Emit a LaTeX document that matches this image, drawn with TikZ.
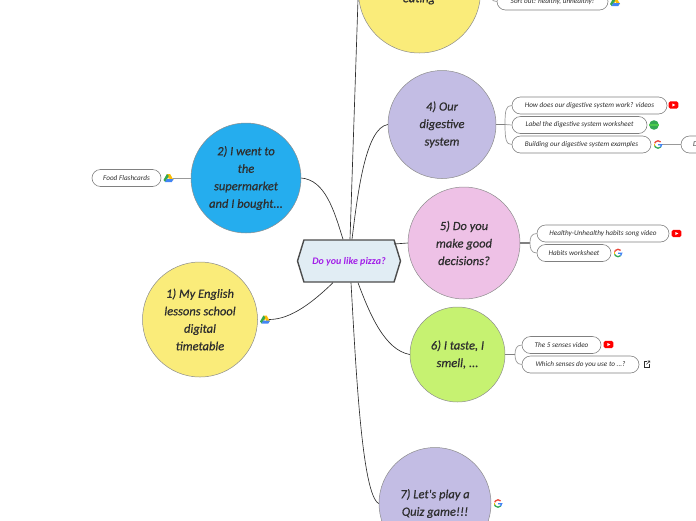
\documentclass[tikz,border=0pt]{standalone}
\usepackage{fontspec}
\setmainfont{Carlito}
\usetikzlibrary{shapes.symbols,shapes.misc}
\definecolor{ink}{HTML}{2E2E2E}
\definecolor{cyellow}{HTML}{FAEC7A}
\definecolor{clilac}{HTML}{C3BDE4}
\definecolor{cblue}{HTML}{25ADEE}
\definecolor{cpink}{HTML}{EEC1E6}
\definecolor{cgreen}{HTML}{C6F271}
\definecolor{chub}{HTML}{E1EDF4}
\definecolor{hubtext}{HTML}{A21FE8}
\definecolor{gblue}{HTML}{4285F4}
\definecolor{ggreen}{HTML}{34A853}
\definecolor{gyellow}{HTML}{FBBC05}
\definecolor{gred}{HTML}{EA4335}
\newfontfamily\topicfont[FakeBold=0.6]{Carlito}
\tikzset{
  x=1pt,y=-1pt,
  topic/.style={circle,draw=gray!90,line width=.5pt,inner sep=0pt,align=center,text=ink,
    font=\topicfont\fontsize{12.5}{17.5}\selectfont\itshape},
  topictext/.style={inner sep=0pt,text=ink,font=\topicfont\fontsize{12.5}{17.5}\selectfont\itshape},
  pill/.style={rounded rectangle,draw=gray,line width=.6pt,fill=white,inner sep=0pt,text=ink,
    minimum height=17pt,font=\fontsize{7.2}{9}\selectfont\itshape},
  link/.style={draw=ink,line width=.65pt},
  twig/.style={draw=gray!80,line width=.7pt},
  stem/.style={draw=gray,line width=1.1pt},
  iconbox/.style={inner sep=0pt,minimum size=8pt},
  pics/drive/.style={code={
    \fill[gyellow] (-1.6,-4) -- (1.6,-4) -- (.6,-1) -- (-.6,1.4) -- cycle;
    \fill[ggreen] (-1.6,-4) -- (-5,2) -- (-3.3,4) -- (.4,-2) -- cycle;
    \fill[gyellow] (1.6,-4) -- (5,2) -- (1.6,2) -- (0,-1.2) -- cycle;
    \fill[gblue] (-1.8,1.2) -- (5,1.2) -- (3.3,4) -- (-3.5,4) -- cycle;
  }},
  pics/gmark/.style={code={
    \draw[gred,line width=1.3pt] (-2.6,-2.6) arc[start angle=-135,end angle=-45,radius=3.7];
    \draw[gred,line width=1.3pt] (-3.3,-1.2) -- (-2.6,-2.6);
    \draw[gyellow,line width=1.3pt] (-3.6,-1) -- (-3.6,1);
    \draw[ggreen,line width=1.3pt] (-3.3,1.2) -- (-2.6,2.6) arc[start angle=135,end angle=45,radius=3.7];
    \draw[gblue,line width=1.3pt] (2.6,2.6) -- (3.6,.2) -- (.2,.2);
  }},
  pics/ytube/.style={code={
    \fill[red,rounded corners=1.5pt] (-4.8,-3.6) rectangle (4.8,3.6);
    \fill[white] (-1.2,-1.5) -- (1.8,0) -- (-1.2,1.5) -- cycle;
  }},
  pics/sheet/.style={code={
    \fill[ggreen] (0,0) circle[radius=4.8];
    \fill[green!70!black!70] (-4.7,-1.4) rectangle (4.7,1.2);
  }},
  pics/extlink/.style={code={
    \draw[ink,line width=.6pt] (-.5,-2.6) -- (-3,-2.6) -- (-3,2.8) -- (2.4,2.8) -- (2.4,.3);
    \draw[ink,line width=.6pt] (-.6,.4) -- (2.8,-3) (.6,-3) -- (2.8,-3) -- (2.8,-.8);
  }},
}
\begin{document}
\begin{tikzpicture}
\useasboundingbox (0,0) rectangle (696,520);
\clip (0,0) rectangle (696,520);
% topics
\node[topic,fill=cyellow,minimum size=122pt] (t3) at (419.5,-8) {};
\node[topictext] (t3text) at (419,-1) {eating};
\node[topic,fill=clilac,minimum size=108pt] (t4) at (442,124.5) {4) Our\\digestive\\system};
\node[topic,fill=cblue,minimum size=110pt] (t2) at (246,178) {2) I went to\\the\\supermarket\\and I bought...};
\node[topic,fill=cyellow,minimum size=115pt] (t1) at (200,319.5) {1) My English\\lessons school\\digital\\timetable};
\node[topic,fill=cpink,minimum size=112pt] (t5) at (464,243) {5) Do you\\make good\\decisions?};
\node[topic,fill=cgreen,minimum size=95pt] (t6) at (457.5,354.5) {6) I taste, I\\smell, ...};
\node[topic,fill=clilac,minimum size=112pt] (t7) at (435,503.5) {7) Let's play a\\Quiz game!!!};
% centre
\node[signal,signal to=west and east,signal pointer angle=146,draw=black!70,line width=1.4pt,fill=chub,
  minimum width=103pt,minimum height=42pt,inner sep=0pt,text=hubtext,
  font=\fontsize{10}{12}\selectfont\itshape\bfseries] (hub) at (349,261) {\raisebox{-3.5pt}[0pt][0pt]{Do you like pizza?}};
% pills
\node[pill,minimum width=111pt] (p31) at (552.5,1.5) {Sort out: healthy, unhealthy!};
\node[pill,minimum width=155pt] (p41) at (589.5,105.5) {How does our digestive system work? videos};
\node[pill,minimum width=135pt] (p42) at (579.5,125) {Label the digestive system worksheet};
\node[pill,minimum width=139pt] (p43) at (581.5,144.5) {Building our digestive system examples};
\node[pill,minimum width=60pt] (p44) at (711,144.5) {\makebox[36pt][l]{D}};
\node[pill,minimum width=69pt] (p21) at (126.5,178) {Food Flashcards};
\node[pill,minimum width=132pt] (p51) at (603,233.5) {Healthy-Unhealthy habits song video};
\node[pill,minimum width=74pt] (p52) at (574,253) {Habits worksheet};
\node[pill,minimum width=79pt] (p61) at (561.5,345) {The 5 senses video};
\node[pill,minimum width=117pt] (p62) at (580.5,364.5) {Which senses do you use to ...?};
% icon places
\node[iconbox] (i31) at (615,2) {};
\node[iconbox] (i41) at (673.5,105) {};
\node[iconbox] (i42) at (654,125) {};
\node[iconbox] (i43) at (658,144.5) {};
\node[iconbox] (i21) at (168.5,178) {};
\node[iconbox] (i11) at (265,319.5) {};
\node[iconbox] (i51) at (676.5,233.5) {};
\node[iconbox] (i52) at (618,253) {};
\node[iconbox] (i61) at (608.5,344.5) {};
\node[iconbox] (i62) at (647,364) {};
\node[iconbox] (i71) at (498,503.5) {};
% main connectors
\draw[link] ([xshift=1pt]hub.north) -- (t3.west);
\draw[link] ([xshift=3pt]hub.north) .. controls (358,190) and (366,128) .. (t4.west);
\draw[link] ([xshift=-6pt]hub.north) .. controls (334,210) and (325,180) .. (t2.east);
\draw[link] ([xshift=-16pt]hub.south) .. controls (315,300) and (292,319.5) .. (i11.east);
\draw[link] ([xshift=45pt,yshift=17pt]hub.center) -- (t5.west);
\draw[link] ([xshift=9pt]hub.south) .. controls (370,315) and (385,350) .. (t6.west);
\draw[link] ([xshift=2pt]hub.south) .. controls (356,370) and (362,495) .. (t7.west);
% branches
\draw[twig] (t3.east) ++(6,-3) .. controls (491,-3) and (491,1.5) .. (p31.west);
\coordinate (b4) at (505,124.5);
\draw[stem] (t4.east) -- (b4);
\draw[twig] (b4) .. controls (505,110) and (506,105.5) .. (p41.west);
\draw[twig] (b4) -- (p42.west);
\draw[twig] (b4) .. controls (505,139) and (506,144.5) .. (p43.west);
\draw[twig] (i43.east) -- (p44.west);
\draw[twig,line width=.9pt] (i21.east) -- (t2.west);
\coordinate (b5) at (530,243);
\draw[stem] (t5.east) -- (b5);
\draw[twig] (b5) .. controls (530,238) and (531,233.5) .. (p51.west);
\draw[twig] (b5) .. controls (530,248) and (531,253) .. (p52.west);
\coordinate (b6) at (515,354.5);
\draw[stem] (t6.east) -- (b6);
\draw[twig] (b6) .. controls (515,350) and (516,345) .. (p61.west);
\draw[twig] (b6) .. controls (515,359) and (516,364.5) .. (p62.west);
% icons
\pic at (i31) {drive};
\pic at (i41) {ytube};
\pic at (i42) {sheet};
\pic at (i43) {gmark};
\pic at (i21) {drive};
\pic at (i11) {drive};
\pic at (i51) {ytube};
\pic at (i52) {gmark};
\pic at (i61) {ytube};
\pic at (i62) {extlink};
\pic at (i71) {gmark};
\end{tikzpicture}
\end{document}
